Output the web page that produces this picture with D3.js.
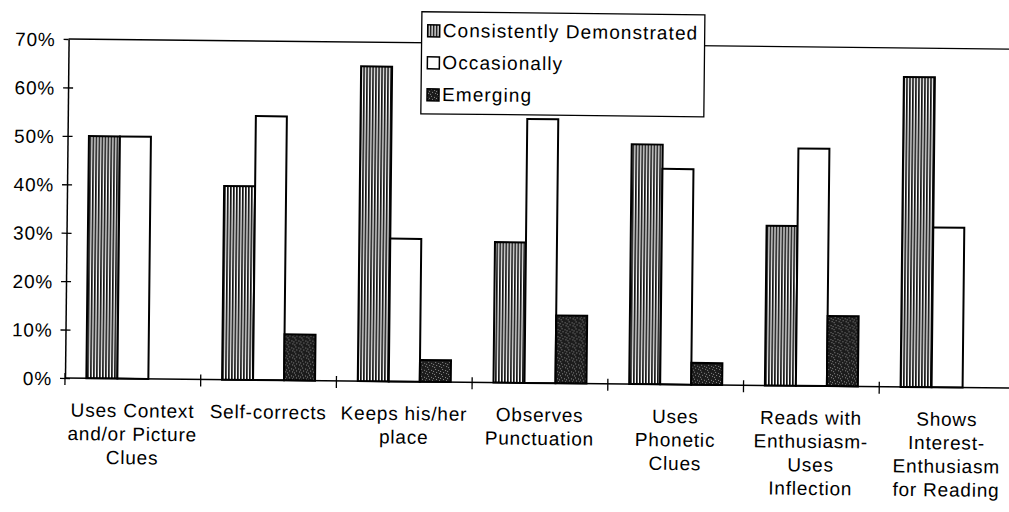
<!DOCTYPE html>
<html>
<head>
<meta charset="utf-8">
<script src="https://cdn.jsdelivr.net/npm/d3@7"></script>
<style>
  html, body { margin: 0; padding: 0; background: #fff; }
  svg { display: block; }
  text { font-family: "Liberation Sans", Arial, sans-serif; fill: #000; }
</style>
</head>
<body>
<svg id="chart" width="1009" height="512"></svg>
<script>
// Reading-behaviour survey: share of students per rating
const categories = [
  ["Uses Context", "and/or Picture", "Clues"],
  ["Self-corrects"],
  ["Keeps his/her", "place"],
  ["Observes", "Punctuation"],
  ["Uses", "Phonetic", "Clues"],
  ["Reads with", "Enthusiasm-", "Uses", "Inflection"],
  ["Shows", "Interest-", "Enthusiasm", "for Reading"]
];
const seriesNames = ["Consistently Demonstrated", "Occasionally", "Emerging"];
const consistently = [50, 40, 65, 29, 49.5, 33, 64];
const occasionally = [50, 54.5, 29.5, 54.5, 44.5, 49, 33];
const emerging = [0, 9.5, 4.5, 14, 4.5, 14.5, 0];
const yTicks = [0, 10, 20, 30, 40, 50, 60, 70];

const series = [consistently, occasionally, emerging];
const fills = ["url(#stripes)", "#ffffff", "url(#stipple)"];

const svg = d3.select("#chart");

// patterns for the bar fills
const defs = svg.append("defs");
const stripes = defs.append("pattern").attr("id", "stripes")
  .attr("patternUnits", "userSpaceOnUse").attr("width", 3).attr("height", 8);
stripes.append("rect").attr("width", 3).attr("height", 8).attr("fill", "#fff");
stripes.append("rect").attr("x", 0).attr("width", 1.7).attr("height", 8).attr("fill", "#111");

const stipple = defs.append("pattern").attr("id", "stipple")
  .attr("patternUnits", "userSpaceOnUse").attr("width", 7).attr("height", 7);
stipple.append("rect").attr("width", 7).attr("height", 7).attr("fill", "#1c1c1c");
[[1, 1], [4, 2], [2, 4], [5, 5], [0, 6], [6, 3]].forEach(([px, py]) =>
  stipple.append("rect").attr("x", px).attr("y", py).attr("width", 1).attr("height", 1).attr("fill", "#8a8a8a"));

const plotLeft = 65, plotRight = 1015, plotTop = 39, plotBottom = 378;

// the whole sheet sits at a slight tilt
const g = svg.append("g").attr("transform", `rotate(0.61, ${plotLeft}, ${plotBottom})`);

const x = d3.scaleBand().domain(d3.range(categories.length)).range([plotLeft, plotRight]).paddingInner(0).paddingOuter(0);
// three touching bars, centred in each category
const groupW = 93;
const xs = d3.scaleBand().domain(d3.range(series.length))
  .range([(x.bandwidth() - groupW) / 2, (x.bandwidth() + groupW) / 2]).paddingInner(0).paddingOuter(0);
const y = d3.scaleLinear().domain([0, 70]).range([plotBottom, plotTop]);

// plot frame: top edge
g.append("line").attr("x1", plotLeft).attr("x2", plotRight).attr("y1", y(70)).attr("y2", y(70))
  .attr("stroke", "#000").attr("stroke-width", 1.3);

// bars
series.forEach((vals, si) => {
  g.append("g").selectAll("rect")
    .data(vals.map((v, i) => ({ v, i })).filter(d => d.v > 0))
    .join("rect")
    .attr("x", d => x(d.i) + xs(si))
    .attr("y", d => y(d.v))
    .attr("width", xs.bandwidth())
    .attr("height", d => y(0) - y(d.v))
    .attr("fill", fills[si])
    .attr("stroke", "#000")
    .attr("stroke-width", 2);
});

// y axis
const yAxis = g.append("g").attr("transform", `translate(${plotLeft},0)`)
  .call(d3.axisLeft(y).tickValues(yTicks).tickFormat(d => d + "%").tickSize(5).tickSizeOuter(0));
yAxis.select(".domain").attr("stroke", "#000").attr("stroke-width", 1.5);
yAxis.selectAll(".tick line").attr("x2", 5).attr("x1", -5).attr("stroke-width", 1.3);
yAxis.selectAll(".tick text").attr("x", -13).attr("dy", "0.36em")
  .style("font-size", "19px").style("letter-spacing", "0.8px");
yAxis.selectAll(".tick").filter(d => d === 70).select("line").attr("x2", 0);

// x axis with crossing ticks at category boundaries
g.append("line").attr("x1", plotLeft).attr("x2", plotRight).attr("y1", y(0)).attr("y2", y(0))
  .attr("stroke", "#000").attr("stroke-width", 1.5);
const bounds = d3.range(categories.length + 1).map(i => plotLeft + i * x.step());
g.append("g").selectAll("line").data(bounds).join("line")
  .attr("x1", d => d).attr("x2", d => d)
  .attr("y1", y(0) - 5).attr("y2", y(0) + 7)
  .attr("stroke", "#000").attr("stroke-width", 1.3);

// category labels
const lab = g.append("g").selectAll("text").data(categories).join("text")
  .attr("text-anchor", "middle")
  .style("font-size", "19px").style("letter-spacing", "0.8px");
lab.each(function (lines, i) {
  d3.select(this).selectAll("tspan").data(lines).join("tspan")
    .attr("x", x(i) + x.bandwidth() / 2)
    .attr("y", (d, k) => 416.5 + k * 23.5)
    .text(d => d);
});

// legend
const lg = g.append("g");
lg.append("rect").attr("x", 418).attr("y", 8).attr("width", 283).attr("height", 102)
  .attr("fill", "#fff").attr("stroke", "#000").attr("stroke-width", 1.3);
seriesNames.forEach((name, i) => {
  const by = 33 + i * 32;
  lg.append("rect").attr("x", 424).attr("y", by - 12).attr("width", 12).attr("height", 12)
    .attr("fill", fills[i]).attr("stroke", "#000").attr("stroke-width", 1.5);
  lg.append("text").attr("x", 439).attr("y", by).text(name)
    .style("font-size", "19px").style("letter-spacing", "1.1px");
});
</script>
</body>
</html>
